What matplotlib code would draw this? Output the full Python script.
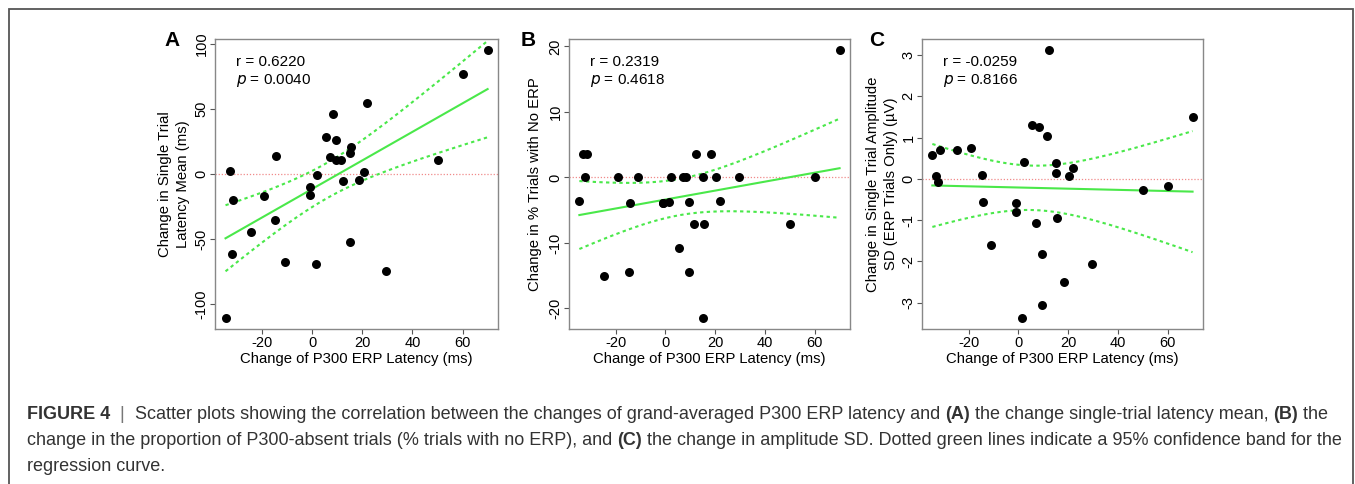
import numpy as np
import matplotlib
matplotlib.use("Agg")
import matplotlib.pyplot as plt
from matplotlib.patches import Rectangle

plt.rcParams["font.family"] = ["Liberation Sans", "DejaVu Sans"]
plt.rcParams["axes.unicode_minus"] = False

# change of P300 ERP latency (ms), one value per subject
latency_change = [-34.6, -33.0, -32.2, -31.6, -24.5, -19.2, -14.8, -14.4, -10.9, -0.9,
                  -0.9, 1.6, 2.1, 5.4, 6.9, 8.3, 9.3, 9.4, 11.3, 12.2,
                  15.0, 15.2, 15.6, 18.5, 20.5, 21.8, 29.6, 50.0, 60.0, 70.0]
# (A) change in single trial latency mean (ms)
latency_mean_change = [-111.0, 2.2, -61.9, -20.0, -44.3, -17.2, -35.1, 13.9, -68.1, -10.1,
                       -16.2, -69.1, -0.6, 28.2, 12.9, 46.4, 25.7, 10.3, 10.6, -5.5,
                       16.0, -52.5, 20.8, -4.7, 1.1, 54.3, -74.5, 10.9, 76.5, 95.4]
# (B) change in % trials with no ERP
no_erp_change = [-3.6, 3.6, 0.0, 3.6, -15.0, 0.0, -14.4, -3.9, 0.0, -3.9,
                 -3.9, -3.7, 0.0, -10.7, 0.0, 0.0, -3.8, -14.4, -7.1, 3.6,
                 0.0, -21.5, -7.1, 3.6, 0.0, -3.6, 0.0, -7.1, 0.0, 19.5]
# (C) change in single trial amplitude SD (uV)
amp_sd_change = [0.59, 0.06, -0.08, 0.71, 0.70, 0.74, 0.10, -0.56, -1.60, -0.58,
                 -0.81, -3.38, 0.40, 1.30, -1.08, 1.26, -1.82, -3.06, 1.05, 3.13,
                 0.39, 0.13, -0.94, -2.50, 0.06, 0.26, -2.06, -0.27, -0.17, 1.51]

panel_letters = ["A", "B", "C"]
y_labels = ["Change in Single Trial\nLatency Mean (ms)",
            "Change in % Trials with No ERP",
            "Change in Single Trial Amplitude\nSD (ERP Trials Only) (\u00b5V)"]
r_texts = ["0.6220", "0.2319", "-0.0259"]
p_texts = ["0.0040", "0.4618", "0.8166"]
y_ticks = [[-100, -50, 0, 50, 100], [-20, -10, 0, 10, 20], [-3, -2, -1, 0, 1, 2, 3]]
x_ticks = [-20, 0, 20, 40, 60]

GREEN = "#4ae84a"
T_975 = 2.048  # t quantile, df = 28


def fit_band(x, y):
    slope, icpt = np.polyfit(x, y, 1)
    xs = np.linspace(x.min(), x.max(), 200)
    yhat = icpt + slope * xs
    resid = y - (icpt + slope * x)
    n = len(x)
    s = np.sqrt((resid ** 2).sum() / (n - 2))
    se = s * np.sqrt(1 / n + (xs - x.mean()) ** 2 / ((x - x.mean()) ** 2).sum())
    return xs, yhat, yhat - T_975 * se, yhat + T_975 * se


def r_limits(v):
    lo, hi = min(v), max(v)
    pad = 0.04 * (hi - lo)
    return lo - pad, hi + pad


fig = plt.figure(figsize=(13.55, 4.84), dpi=100)
lefts = [0.1587, 0.4199, 0.6804]
widths = [0.2089, 0.2074, 0.2074]
ylab_x = [-0.145, -0.121, -0.142]
letter_x = [0.127, 0.3897, 0.647]

x = np.array(latency_change)
for i, yv in enumerate([latency_mean_change, no_erp_change, amp_sd_change]):
    y = np.array(yv)
    ax = fig.add_axes([lefts[i], 0.3202, widths[i], 0.5992])
    ax.axhline(0, color="#f08a8a", lw=0.9, ls=(0, (1, 1.5)), zorder=1)
    xs, yhat, lo, hi = fit_band(x, y)
    ax.plot(xs, yhat, color=GREEN, lw=1.5, zorder=2)
    ax.plot(xs, lo, color=GREEN, lw=1.5, ls=(0, (1.6, 1.6)), zorder=2)
    ax.plot(xs, hi, color=GREEN, lw=1.5, ls=(0, (1.6, 1.6)), zorder=2)
    ax.scatter(x, y, s=42, color="black", zorder=3, linewidths=0)

    ax.set_xlim(r_limits(x))
    ax.set_ylim(r_limits(y))
    ax.set_xticks(x_ticks)
    ax.set_yticks(y_ticks[i])
    ax.tick_params(labelsize=10.5, length=3.6, width=0.8, color="#555555", pad=1.5)
    ax.tick_params(axis="y", labelrotation=90, pad=1)
    for lab in ax.get_yticklabels():
        lab.set_va("center")
    for sp in ax.spines.values():
        sp.set_color("#888888")
        sp.set_linewidth(1.0)

    ax.text(0.5, -0.105, "Change of P300 ERP Latency (ms)", transform=ax.transAxes,
            ha="center", va="center", fontsize=10.7)
    ax.text(ylab_x[i], 0.5, y_labels[i], transform=ax.transAxes, rotation=90,
            ha="center", va="center", fontsize=10.7, linespacing=1.3)
    ax.text(0.075, 0.92, "r = " + r_texts[i], transform=ax.transAxes,
            ha="left", va="center", fontsize=11)
    ax.text(0.075, 0.858, "$p$ = " + p_texts[i], transform=ax.transAxes,
            ha="left", va="center", fontsize=11)
    fig.text(letter_x[i], 0.917, panel_letters[i], fontsize=15, fontweight="bold",
             ha="center", va="center")

# outer frame of the figure
fig.add_artist(Rectangle((9 / 1355, -0.05), (1353 - 9) / 1355, 1.05 - 9 / 484,
                         transform=fig.transFigure, fill=False, ec="#555555", lw=1.3))

# caption with mixed weights
caption = [
    [("FIGURE 4", "bold", "#333333"), ("  |  ", "normal", "#777777"),
     ("Scatter plots showing the correlation between the changes of grand-averaged "
      "P300 ERP latency and ", "normal", "#333333"),
     ("(A)", "bold", "#333333"), (" the change single-trial latency mean, ", "normal", "#333333"),
     ("(B)", "bold", "#333333"), (" the", "normal", "#333333")],
    [("change in the proportion of P300-absent trials (% trials with no ERP), and ",
      "normal", "#333333"),
     ("(C)", "bold", "#333333"),
     (" the change in amplitude SD. Dotted green lines indicate a 95% confidence band for the",
      "normal", "#333333")],
    [("regression curve.", "normal", "#333333")],
]
baselines = [419, 445, 471]
renderer = fig.canvas.get_renderer()
for line, yb in zip(caption, baselines):
    xpx = 27
    for txt, weight, col in line:
        t = fig.text(xpx / 1355, 1 - yb / 484, txt, fontsize=13.0, fontweight=weight,
                     color=col, ha="left", va="baseline")
        xpx += t.get_window_extent(renderer).width

fig.savefig("out.png", dpi=100)
